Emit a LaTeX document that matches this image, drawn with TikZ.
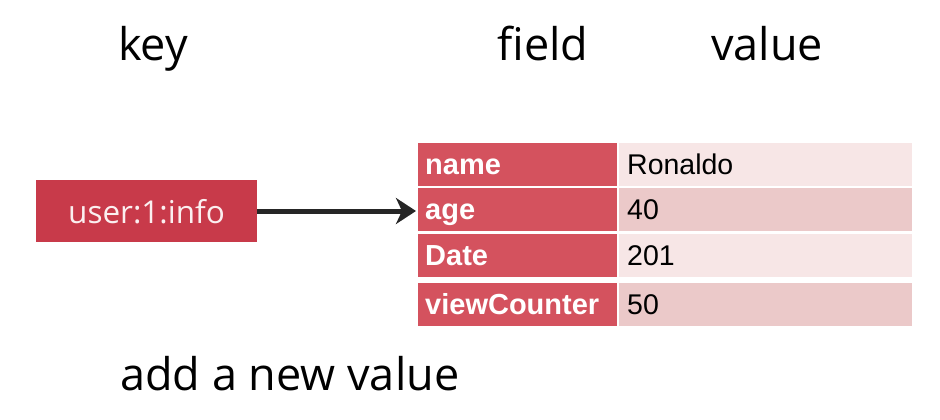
\documentclass[tikz,border=0pt]{standalone}
\usepackage{fontspec}
\setmainfont{Open Sans}
\newfontfamily\tablefont{Liberation Sans}
\usepackage{xcolor}
\usetikzlibrary{arrows.meta,positioning}
\definecolor{keyred}{HTML}{C83A4A}
\definecolor{fieldred}{HTML}{D4525E}
\definecolor{vallight}{HTML}{F7E6E6}
\definecolor{valdark}{HTML}{EBC9C9}
\begin{document}
\begin{tikzpicture}[x=1pt, y=-1pt,
    title/.style={font=\fontsize{45}{54}\selectfont, inner sep=0pt, anchor=base},
    keybox/.style={rectangle, fill=keyred, text=white!92!keyred, minimum width=221pt, minimum height=62pt, text height=30pt, text depth=6pt, font=\fontsize{31.5}{38}\selectfont, inner sep=0pt},
    fieldbox/.style={rectangle, fill=fieldred, text=white, minimum width=199pt, minimum height=43pt, text width=185pt, text height=25pt, text depth=6pt, align=left, inner sep=0pt, inner xsep=7pt, font=\tablefont\bfseries\fontsize{29}{34}\selectfont, anchor=north west},
    valuebox/.style={rectangle, minimum width=291pt, minimum height=43pt, text width=277pt, text height=25pt, text depth=6pt, align=left, inner sep=0pt, inner xsep=8pt, font=\tablefont\fontsize{28.5}{34}\selectfont, anchor=north west}
]
\useasboundingbox (0,0) rectangle (940,420);

% Titles
\node[title] (keytitle) at (153, 60) {key};
\node[title] (fieldtitle) at (543, 60) {field};
\node[title] (valuetitle) at (767, 60) {value};

% Key
\node[keybox] (key) at (146.5, 211) {user:1:info};

% Hash table
\node[fieldbox] (name) at (418, 143) {name};
\node[valuebox, fill=vallight] (nameval) at (619, 143) {Ronaldo};
\node[fieldbox] (age) at (418, 188) {age};
\node[valuebox, fill=valdark] (ageval) at (619, 188) {40};
\node[fieldbox] (date) at (418, 234) {Date};
\node[valuebox, fill=vallight] (dateval) at (619, 234) {201};
\node[fieldbox] (views) at (418, 283) {viewCounter};
\node[valuebox, fill=valdark] (viewsval) at (619, 283) {50};

% Arrow
\draw[-{Stealth[length=20pt, width=26pt, inset=6pt]}, line width=5pt, color=black!85] (key.east) -- ([xshift=-2pt]key.east -| age.west);

% Bottom text
\node[title, anchor=base west] (addnew) at (120, 390) {add a new value};

\end{tikzpicture}
\end{document}
